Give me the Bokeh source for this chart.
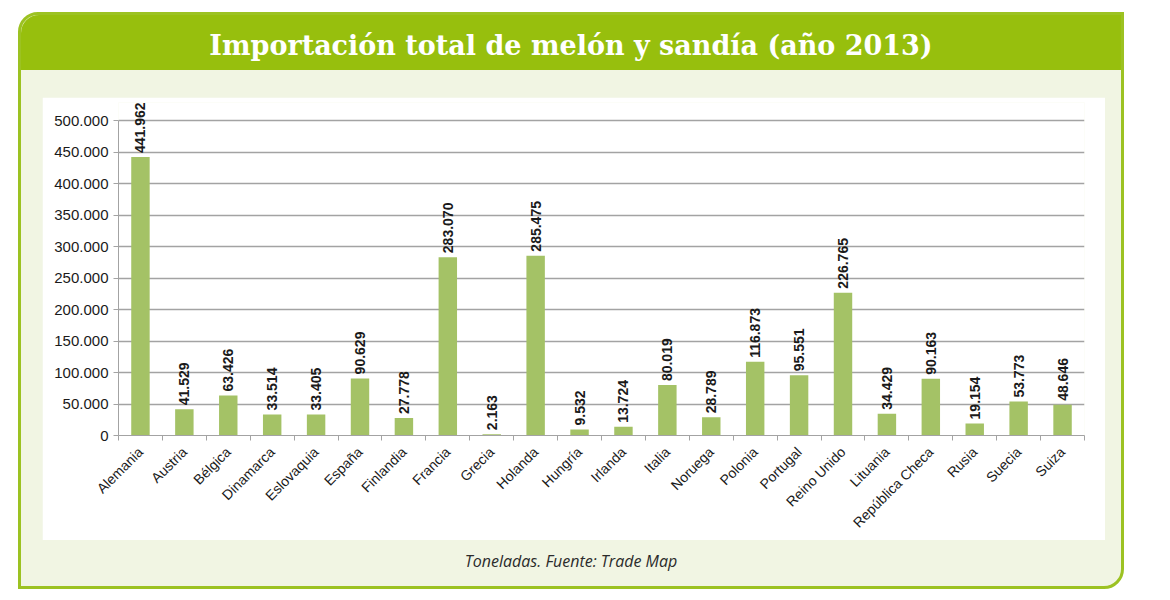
from math import pi

from bokeh.core.properties import value
from bokeh.embed import file_html
from bokeh.layouts import column, row
from bokeh.models import (ColumnDataSource, Div, FixedTicker, LinearAxis,
                          Range1d, Spacer)
from bokeh.plotting import figure
from bokeh.resources import INLINE

paises = ["Alemania", "Austria", "Bélgica", "Dinamarca", "Eslovaquia", "España",
          "Finlandia", "Francia", "Grecia", "Holanda", "Hungría", "Irlanda",
          "Italia", "Noruega", "Polonia", "Portugal", "Reino Unido", "Lituania",
          "República Checa", "Rusia", "Suecia", "Suiza"]
toneladas = [441962, 41529, 63426, 33514, 33405, 90629, 27778, 283070, 2163,
             285475, 9532, 13724, 80019, 28789, 116873, 95551, 226765, 34429,
             90163, 19154, 53773, 48646]
y_ticks = [0, 50000, 100000, 150000, 200000, 250000, 300000, 350000, 400000,
           450000, 500000]
y_tick_labels = ["0", "50.000", "100.000", "150.000", "200.000", "250.000",
                 "300.000", "350.000", "400.000", "450.000", "500.000"]

titulo = "Importación total de melón y sandía (año 2013)"
fuente = "Toneladas. Fuente: Trade Map"

# each country sits in the middle of its slot; slot borders carry the ticks
centros = [i + 0.5 for i in range(len(paises))]
bordes = list(range(len(paises) + 1))
etiquetas = [f"{v:,}".replace(",", ".") for v in toneladas]
src = ColumnDataSource(dict(x=centros, t=toneladas, etiqueta=etiquetas))

GRIS = "#a3a3a3"
VERDE = "#97bf0d"
BARRA = "#a4c266"
TXT = "#1a1a1a"

p = figure(width=1063, height=443, x_range=Range1d(0, len(paises)),
           y_range=Range1d(0, 500000 * 333 / 315), x_axis_location=None,
           output_backend="svg", toolbar_location=None,
           min_border_left=76, min_border_right=21, min_border_top=5,
           min_border_bottom=105, margin=(27, 16, 0, 21))
p.outline_line_color = None
p.background_fill_color = "white"
p.border_fill_color = "white"

eje_x = LinearAxis(ticker=FixedTicker(ticks=centros, minor_ticks=bordes),
                   major_label_overrides=dict(zip(centros, paises)),
                   axis_line_color=GRIS, major_tick_line_color=None,
                   major_tick_in=0, major_tick_out=0,
                   minor_tick_line_color=GRIS, minor_tick_in=0,
                   minor_tick_out=5,
                   major_label_orientation=pi / 4, major_label_standoff=9,
                   major_label_text_font="Liberation Sans",
                   major_label_text_font_size="14px",
                   major_label_text_color=TXT)
p.add_layout(eje_x, "below")

ya = p.yaxis[0]
ya.ticker = FixedTicker(ticks=y_ticks)
ya.major_label_overrides = dict(zip(y_ticks, y_tick_labels))
ya.bounds = (0, 500000)
ya.axis_line_color = GRIS
ya.major_tick_line_color = GRIS
ya.major_tick_in = 0
ya.major_tick_out = 5
ya.minor_tick_line_color = None
ya.major_label_standoff = 5
ya.major_label_text_font = "Liberation Sans"
ya.major_label_text_font_size = "15px"
ya.major_label_text_color = TXT

p.ygrid.ticker = FixedTicker(ticks=y_ticks)
p.ygrid.grid_line_color = GRIS
p.ygrid.grid_line_width = 1.4
p.xgrid.visible = False

p.vbar(x="x", top="t", width=0.42, source=src, fill_color=BARRA,
       line_color=None)
p.text(x="x", y="t", text="etiqueta", source=src, angle=pi / 2,
       text_align="left", text_baseline="middle", y_offset=-4,
       text_font=value("Liberation Sans"), text_font_style="bold",
       text_font_size="14px", text_color=TXT)

cabecera = Div(
    text=f'<div style="width:1100px;text-align:center;color:white;'
         f'font-family:\'DejaVu Serif\';font-weight:bold;font-size:27px;'
         f'line-height:62px;white-space:nowrap;">{titulo}</div>',
    width=1100, height=55, margin=0,
    styles={"background-color": VERDE, "border-radius": "18px 0 0 0"})

pie = Div(
    text=f'<div style="width:1100px;text-align:center;color:#2b2b2b;'
         f'font-family:\'Open Sans\';font-style:italic;font-size:16px;'
         f'line-height:42px;">{fuente}</div>',
    width=1100, height=46, margin=0)

marco = column(cabecera, p, pie,
               styles={"background-color": "#f1f5e3",
                       "border": "3px solid #9cc222",
                       "border-radius": "20px 0 20px 0"})

layout = column(Spacer(height=12), row(Spacer(width=18), marco))

open("out.html", "w").write(file_html(layout, INLINE))
